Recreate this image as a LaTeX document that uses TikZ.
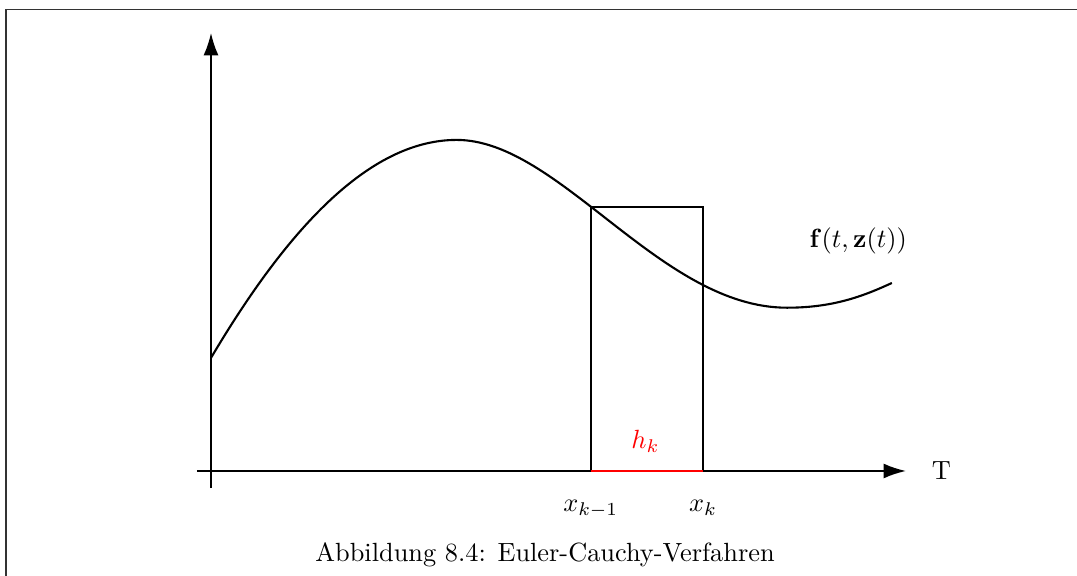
\documentclass[tikz,border=0pt]{standalone}
\usepackage{amsmath}
\usepackage{xcolor}
\usetikzlibrary{arrows.meta, positioning}

\begin{document}
\begin{tikzpicture}[
axis/.style={-{Latex[length=3mm,width=2mm]}, thick},
curve/.style={thick},
box/.style={thick},
frame/.style={draw=black!80, line width=0.6pt}
]

\useasboundingbox (-2.817,-1.389) rectangle (11.562,6.288);
\draw[frame] (-2.737,-1.5) -- (-2.737,6.16) -- (11.7,6.16);

% axes
\coordinate (o) at (0,0);
\coordinate (xstart) at (-0.19,0);
\coordinate (xend) at (9.28,0);
\coordinate (ystart) at (0,-0.23);
\coordinate (yend) at (0,5.85);
\draw[axis] (xstart) -- (xend);
\draw[axis] (ystart) -- (yend);
\node[right=0.22cm of xend] (tlabel) {T};

% function
\draw[curve] (0,1.51) .. controls (1.0,3.2) and (2.1,4.42) .. (3.28,4.42)
  .. controls (4.65,4.42) and (6.0,2.18) .. (7.69,2.18)
  .. controls (8.3,2.18) and (8.7,2.33) .. (9.09,2.51);
\node (flabel) at (8.64,3.07) {$\mathbf{f}(t,\mathbf{z}(t))$};

% step
\coordinate (a) at (5.07,0);
\coordinate (b) at (6.57,0);
\coordinate (atop) at (5.07,3.52);
\coordinate (btop) at (6.57,3.52);
\draw[box] (a) -- (atop) -- (btop) -- (b);
\draw[thick, red] (a) -- (b);
\node[red] (hk) at (5.8,0.4) {$h_k$};
\node[below=0.27cm of a] (xkm) {$x_{k-1}$};
\node[below=0.27cm of b] (xk) {$x_k$};

\node (caption) at (4.46,-1.12) {Abbildung 8.4: Euler-Cauchy-Verfahren};

\end{tikzpicture}
\end{document}
